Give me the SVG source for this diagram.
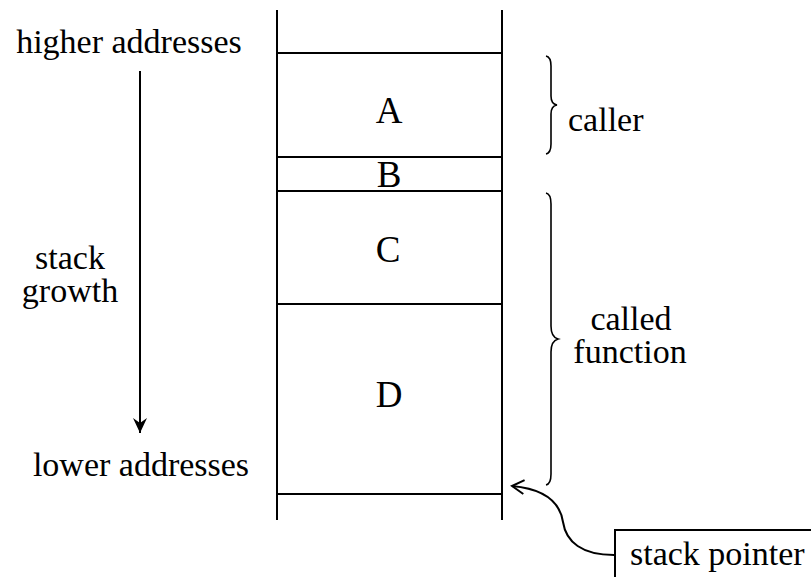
<svg xmlns="http://www.w3.org/2000/svg" width="811" height="577" viewBox="0 0 811 577">
  <style>
    .ln { stroke: #000; stroke-width: 2; fill: none; }
    .thin { stroke: #000; stroke-width: 1.6; fill: none; }
    text { font-family: "Liberation Serif", "Times New Roman", serif; font-size: 34px; fill: #000; }
    .mid { text-anchor: middle; }
    .big { font-size: 37px; }
  </style>
  <defs>
    <marker id="stealth" markerUnits="userSpaceOnUse" markerWidth="20" markerHeight="20" refX="15" refY="7" orient="auto">
      <path d="M15,7 L0,0 L5,7 L0,14 Z" fill="#000"/>
    </marker>
    <marker id="vee" markerUnits="userSpaceOnUse" markerWidth="20" markerHeight="20" refX="14" refY="8" orient="auto">
      <path d="M2,1 L14,8 L2,15" fill="none" stroke="#000" stroke-width="2"/>
    </marker>
  </defs>

  <!-- stack frame -->
  <g id="stack">
    <line class="ln" x1="277" y1="10" x2="277" y2="520"/>
    <line class="ln" x1="502" y1="10" x2="502" y2="520"/>
    <line class="ln" x1="277" y1="53" x2="502" y2="53"/>
    <line class="ln" x1="277" y1="157" x2="502" y2="157"/>
    <line class="ln" x1="277" y1="191" x2="502" y2="191"/>
    <line class="ln" x1="277" y1="304" x2="502" y2="304"/>
    <line class="ln" x1="277" y1="494" x2="502" y2="494"/>
  </g>

  <g id="slotA"><text class="mid big" x="389" y="123">A</text></g>
  <g id="slotB"><text class="mid big" x="389" y="187">B</text></g>
  <g id="slotC"><text class="mid big" x="388" y="262">C</text></g>
  <g id="slotD"><text class="mid big" x="389" y="407">D</text></g>

  <g id="labels">
    <text class="mid" x="129" y="53">higher addresses</text>
    <text class="mid" x="70" y="269">stack</text>
    <text class="mid" x="70" y="302">growth</text>
    <text class="mid" x="141" y="476">lower addresses</text>
  </g>

  <g id="caller">
    <path class="thin" d="M546,56 Q551,57 551,66 V96 Q551,104 557,105 Q551,106 551,114 V144 Q551,153 546,154"/>
    <text x="568" y="131">caller</text>
  </g>

  <g id="called">
    <path class="thin" d="M546,193 Q551,194 551,204 V326 Q551,337 558,339 Q551,341 551,352 V474 Q551,484 546,485"/>
    <text class="mid" x="631" y="330">called</text>
    <text class="mid" x="630" y="363">function</text>
  </g>

  <g id="stackpointer">
    <path class="ln" d="M615,577 V530 H811"/>
    <text x="630" y="565">stack pointer</text>
  </g>

  <g id="connectors">
    <line class="ln" x1="140" y1="71" x2="140" y2="433" marker-end="url(#stealth)"/>
    <path class="ln" d="M614,555 C582,555 566,542 563,522 C560,502 545,489 512,486" marker-end="url(#vee)"/>
  </g>
</svg>
